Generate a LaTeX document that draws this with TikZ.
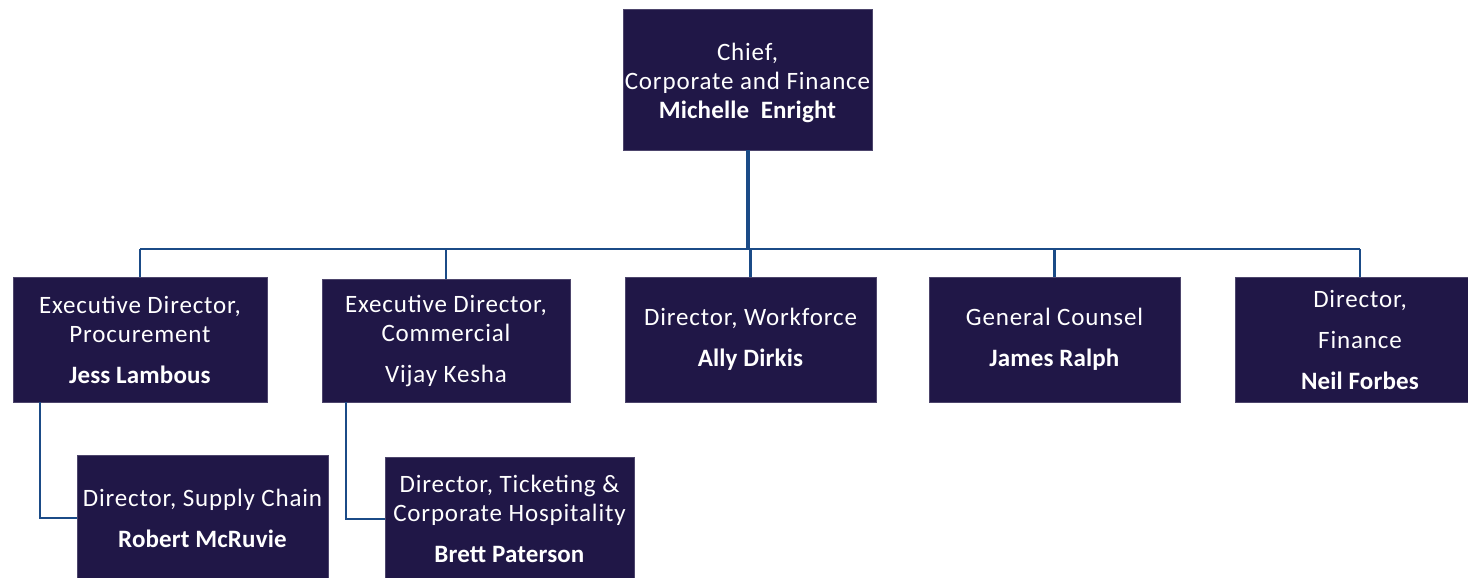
\documentclass[tikz,border=0pt]{standalone}
\usepackage{fontspec}
\setmainfont{Carlito}[LetterSpace=3.4, BoldFeatures={LetterSpace=0.6}]
\definecolor{boxfill}{HTML}{201747}
\definecolor{linkblue}{HTML}{1B4B87}

\tikzstyle{rolebox}=[fill=boxfill, draw=boxfill!80!white, text=white, align=center, inner sep=0pt, font=\fontsize{12.5}{14.5}\selectfont]
\tikzstyle{link}=[draw=linkblue, line width=1.1pt]
\tikzstyle{trunk}=[draw=linkblue, line width=2pt]

\begin{document}
\begin{tikzpicture}[x=0.5pt, y=-0.5pt]
  \clip (0,0) rectangle (1468,578);
  \fill[white] (0,0) rectangle (1468,578);
  % top
  \node[rolebox, minimum width=124.5pt, minimum height=70.5pt] (chief) at (747.5,79.5)
    {\rule{0pt}{12.4pt}Chief,\\Corporate and Finance\\\textbf{Michelle\ \ Enright}};
  % first row
  \node[rolebox, minimum width=127pt, minimum height=62.5pt] (jess) at (140,339.5)
    {Executive Director,\\Procurement\\[6pt]\textbf{Jess Lambous}};
  \node[rolebox, minimum width=124pt, minimum height=61.5pt] (vijay) at (446,340.5)
    {Executive Director,\\Commercial\\[6pt]Vijay Kesha};
  \node[rolebox, minimum width=125.5pt, minimum height=62.5pt] (ally) at (750.5,339.5)
    {Director, Workforce\\[6pt]\textbf{Ally Dirkis}};
  \node[rolebox, minimum width=125.5pt, minimum height=62.5pt] (james) at (1054.5,339.5)
    {General Counsel\\[6pt]\textbf{James Ralph}};
  \node[rolebox, minimum width=125pt, minimum height=62.5pt] (neil) at (1360,339.5)
    {Director,\\[6pt]Finance\\[6pt]\textbf{Neil Forbes}};
  % second row
  \node[rolebox, minimum width=125.5pt, minimum height=63pt] (robert) at (202.5,518)
    {Director, Supply Chain\\[6pt]\textbf{Robert McRuvie}};
  \node[rolebox, minimum width=124.5pt, minimum height=62pt] (brett) at (509.5,519)
    {Director, Ticketing \&\\Corporate Hospitality\\[6pt]\textbf{Brett Paterson}};

  \coordinate (bus) at (747.5,249);
  \coordinate (jesstap) at (40,402);
  \coordinate (vijaytap) at (346,402);

  \draw[trunk] (chief.south) -- (bus);
  \draw[link] (jess.north |- bus) -- (neil.north |- bus);
  \foreach \n in {jess, vijay, ally, james, neil} {%
    \draw[link] (\n.north |- bus) -- (\n.north);
  }
  \draw[link] (jesstap) |- (robert.west);
  \draw[link] (vijaytap) |- (brett.west);
\end{tikzpicture}
\end{document}
